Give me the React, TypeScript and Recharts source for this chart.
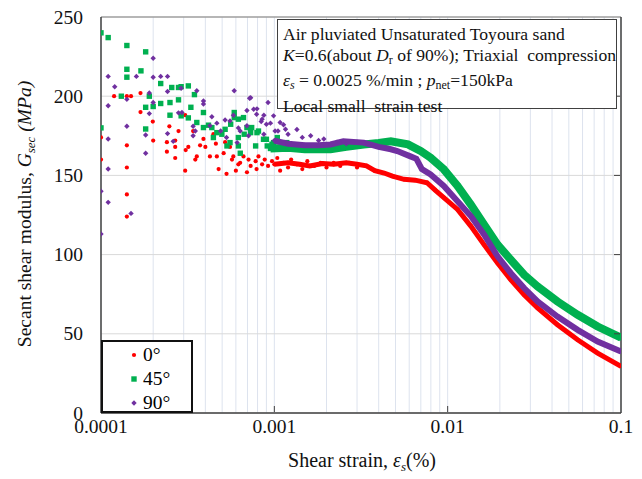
import React from "react";
import { ScatterChart, Scatter, XAxis, YAxis, CartesianGrid, ReferenceLine } from "recharts";

type Pt = [number, number];

const X_LABELS = [0.0001, 0.001, 0.01, 0.1];
const X_MINOR = [
  0.0001, 0.0002, 0.0003, 0.0004, 0.0005, 0.0006, 0.0007, 0.0008, 0.0009,
  0.001, 0.002, 0.003, 0.004, 0.005, 0.006, 0.007, 0.008, 0.009,
  0.01, 0.02, 0.03, 0.04, 0.05, 0.06, 0.07, 0.08, 0.09, 0.1,
];
const Y_TICKS = [0, 50, 100, 150, 200, 250];

// 0 deg — scattered small-strain readings
const red0Scatter: Pt[] = [
  [1e-4, 174], [1e-4, 160], [1.19e-4, 200], [1.41e-4, 200], [1.49e-4, 200], [1.69e-4, 202],
  [1.69e-4, 190], [1.99e-4, 184], [1.41e-4, 169], [1.41e-4, 155], [1.41e-4, 138], [1.41e-4, 124],
  [2e-4, 172], [2.48e-4, 181], [2.4e-4, 171], [2.68e-4, 172], [2.68e-4, 168], [2.4e-4, 165],
  [2.68e-4, 161], [2.8e-4, 178], [3.06e-4, 188], [3.06e-4, 153], [3.08e-4, 166], [3.19e-4, 168],
  [3.5e-4, 160], [3.4e-4, 178], [3.57e-4, 162], [3.73e-4, 169], [3.9e-4, 173], [4.0e-4, 168],
  [4.25e-4, 162], [4.45e-4, 176], [4.6e-4, 170], [4.66e-4, 162], [4.77e-4, 154], [5.1e-4, 164],
  [5.2e-4, 171], [5.3e-4, 151], [5.55e-4, 168], [5.7e-4, 160], [5.8e-4, 162], [6.0e-4, 153],
  [6.2e-4, 157], [6.35e-4, 158], [6.64e-4, 162], [6.95e-4, 152], [7.1e-4, 160], [7.3e-4, 156],
  [7.8e-4, 159], [7.9e-4, 154], [8.1e-4, 162], [8.5e-4, 157], [8.8e-4, 160], [9.2e-4, 156],
  [9.7e-4, 159], [1.04e-3, 161], [1.08e-3, 153], [1.13e-3, 158], [1.2e-3, 155], [1.25e-3, 160],
  [1.35e-3, 157], [1.45e-3, 154], [1.55e-3, 159], [1.7e-3, 156], [1.85e-3, 158], [2.0e-3, 155],
  [2.2e-3, 158], [2.4e-3, 156], [2.7e-3, 158], [3.0e-3, 155],
];
const red0Curve: Pt[] = [
  [1.0e-3, 157], [1.2e-3, 158], [1.4e-3, 157], [1.6e-3, 156], [1.9e-3, 157.5], [2.2e-3, 157],
  [2.6e-3, 158], [3.0e-3, 157], [3.4e-3, 156], [3.8e-3, 153], [4.3e-3, 151.5], [4.8e-3, 149.5],
  [5.6e-3, 147.5], [6.5e-3, 147], [7.6e-3, 145.4], [8.5e-3, 140.5], [9.5e-3, 136],
  [1.14e-2, 128.5], [1.36e-2, 118], [1.62e-2, 106.3], [1.94e-2, 94.7], [2.31e-2, 84.2],
  [2.76e-2, 74.7], [3.3e-2, 66.3], [4.3e-2, 55.7], [5.62e-2, 46.2], [7.33e-2, 37.8], [0.1, 29.5],
];

// 45 deg
const green45Scatter: Pt[] = [
  [1e-4, 240], [1.1e-4, 237], [1.41e-4, 232], [1.81e-4, 228], [1.41e-4, 217], [1.7e-4, 216],
  [1.41e-4, 212], [2.21e-4, 208], [2.56e-4, 205.5], [2.8e-4, 205.5], [2.9e-4, 206], [3.19e-4, 206.5],
  [1.31e-4, 200], [1.9e-4, 200], [1.81e-4, 193], [2e-4, 193.5], [2.21e-4, 195.4], [2.5e-4, 196],
  [2.8e-4, 197.7], [3.3e-4, 193], [2.5e-4, 188], [2.9e-4, 187.6], [3.19e-4, 186.3], [1e-4, 180],
  [1.81e-4, 179.3], [3.46e-4, 201], [3.57e-4, 183.4], [3.9e-4, 180.2], [3.9e-4, 189.7],
  [4.17e-4, 181.7], [4.36e-4, 180.2], [4.45e-4, 173.9], [4.66e-4, 177], [4.98e-4, 176],
  [5.2e-4, 179.1], [5.33e-4, 168.6], [5.55e-4, 170.7], [5.6e-4, 182.3], [5.87e-4, 189.7],
  [5.87e-4, 186.5], [6.2e-4, 185.5], [6.2e-4, 168.6], [6.2e-4, 173.9], [6.36e-4, 164],
  [6.64e-4, 186.5], [6.7e-4, 176], [6.95e-4, 180.2], [7.3e-4, 177], [7.4e-4, 180.2],
  [7.8e-4, 168.6], [7.94e-4, 177], [8.1e-4, 178], [8.66e-4, 172.8], [9.0e-4, 172.8],
  [9.1e-4, 168.6], [9.7e-4, 169.7], [9.9e-4, 170.7], [1.04e-3, 173.9], [1.08e-3, 167.6],
  [1.13e-3, 168.6], [1.18e-3, 170.7], [1.23e-3, 168.6], [1.47e-3, 167.6], [1.76e-3, 166.5],
  [2.1e-3, 167.6], [2.5e-3, 168.6],
];
const green45Curve: Pt[] = [
  [9.5e-4, 167], [1.2e-3, 167.5], [1.5e-3, 166.5], [1.8e-3, 166.5], [2.11e-3, 166.5],
  [2.6e-3, 168], [3.28e-3, 169.5], [4.0e-3, 170.5], [4.7e-3, 171.5], [5.9e-3, 169.6],
  [6.98e-3, 165.4], [7.97e-3, 161.2], [9.5e-3, 153.8], [1.14e-2, 143.3], [1.36e-2, 131.6],
  [1.62e-2, 119], [1.94e-2, 106.3], [2.31e-2, 96.8], [2.76e-2, 87.3], [3.3e-2, 79.9],
  [4.3e-2, 70.4], [5.62e-2, 62], [7.33e-2, 54.6], [0.1, 47.5],
];

// 90 deg
const purple90Scatter: Pt[] = [
  [2e-4, 224], [1.1e-4, 212.5], [1.6e-4, 212.5], [2e-4, 212], [2.21e-4, 212.5], [2.42e-4, 212.5],
  [1.2e-4, 206], [2.42e-4, 203], [2.9e-4, 205], [1.41e-4, 198], [1.9e-4, 202], [2e-4, 196],
  [1.1e-4, 194], [1.9e-4, 189], [2.8e-4, 189.5], [2.93e-4, 189.7], [1.41e-4, 181], [1.1e-4, 173],
  [1.81e-4, 175.5], [2.42e-4, 176.4], [2.61e-4, 171.5], [3.4e-4, 181], [3.5e-4, 178], [3.4e-4, 175],
  [1.81e-4, 164], [1.1e-4, 154], [1e-4, 140], [1.1e-4, 133], [1.49e-4, 126], [1e-4, 113],
  [3.57e-4, 203.4], [3.9e-4, 197], [3.9e-4, 195], [4.25e-4, 181.3], [4.36e-4, 187], [4.66e-4, 183],
  [4.9e-4, 178], [5.2e-4, 185], [5.3e-4, 173.9], [5.55e-4, 184.4], [5.81e-4, 188], [5.87e-4, 203.4],
  [6.1e-4, 170.7], [6.2e-4, 180], [6.35e-4, 178], [6.95e-4, 181.3], [6.95e-4, 191], [7.1e-4, 175],
  [7.2e-4, 198.7], [7.3e-4, 199], [7.6e-4, 191.8], [7.9e-4, 188.6], [7.94e-4, 192], [8.4e-4, 184],
  [8.5e-4, 185.5], [8.7e-4, 176], [8.7e-4, 188], [9.0e-4, 182.3], [9.2e-4, 196], [9.5e-4, 183],
  [9.9e-4, 187.6], [1.01e-3, 178], [1.05e-3, 178], [1.08e-3, 183.4], [1.13e-3, 182], [1.16e-3, 179.1],
  [1.2e-3, 176], [1.35e-3, 179], [1.45e-3, 174], [1.62e-3, 175], [1.8e-3, 172], [1.93e-3, 173],
  [2.3e-3, 171], [2.6e-3, 170], [3.0e-3, 171],
];
const purple90Curve: Pt[] = [
  [1.0e-3, 172], [1.2e-3, 170], [1.5e-3, 169], [1.8e-3, 169], [2.11e-3, 169.5], [2.5e-3, 171.5],
  [3.28e-3, 170.7], [4.0e-3, 168], [4.7e-3, 166.5], [5.12e-3, 165.4], [6.1e-3, 162], [6.6e-3, 160.5],
  [7.1e-3, 154], [7.97e-3, 150.6], [9.5e-3, 143.3], [1.14e-2, 133.7], [1.36e-2, 124.3],
  [1.62e-2, 112.7], [1.94e-2, 98.9], [2.31e-2, 88.4], [2.76e-2, 78.9], [3.3e-2, 70.4],
  [4.3e-2, 60.9], [5.62e-2, 52.5], [7.33e-2, 45.1], [0.1, 38.8],
];

const RED = "#ff0000";
const GREEN = "#00b050";
const PURPLE = "#7030a0";
const FONT = "'Liberation Serif', 'Times New Roman', serif";
const AXIS = "#404040";

const rows = (pts: Pt[]) => pts.map(([x, y]) => ({ x, y }));

const redDot = (p: any) => <circle cx={p.cx} cy={p.cy} r={2.1} fill={RED} />;
const greenSq = (p: any) => <rect x={p.cx - 2.7} y={p.cy - 2.7} width={5.4} height={5.4} fill={GREEN} />;
const purpleDia = (p: any) => (
  <polygon
    points={`${p.cx},${p.cy - 2.7} ${p.cx + 2.7},${p.cy} ${p.cx},${p.cy + 2.7} ${p.cx - 2.7},${p.cy}`}
    fill={PURPLE}
  />
);

const XTick = (props: any) => {
  const { x, y, payload } = props;
  const v = payload.value;
  if (!X_LABELS.includes(v)) return <g />;
  const inner = v !== 0.0001 && v !== 0.1;
  return (
    <g>
      {inner && <line x1={x} x2={x} y1={y - 1} y2={y - 7} stroke={AXIS} strokeWidth={1} />}
      <text x={x} y={y + 20} textAnchor="middle" fontSize={19.5} fontFamily={FONT} fill="#111">
        {String(v)}
      </text>
    </g>
  );
};

const YTick = (props: any) => {
  const { x, y, payload } = props;
  return (
    <text x={x - 18} y={y + 6.5} textAnchor="end" fontSize={19.5} fontFamily={FONT} fill="#111">
      {payload.value}
    </text>
  );
};

const RightTick = (props: any) => {
  const { x, y, payload } = props;
  if (payload.value === 0 || payload.value === 250) return <g />;
  return <line x1={x - 1} x2={x - 7} y1={y} y2={y} stroke={AXIS} strokeWidth={1} />;
};

function Legend() {
  const items = [
    { label: "0°", mark: <circle cx={6} cy={6} r={2.1} fill={RED} /> },
    { label: "45°", mark: <rect x={3.3} y={3.3} width={5.4} height={5.4} fill={GREEN} /> },
    { label: "90°", mark: <polygon points="6,3.3 8.7,6 6,8.7 3.3,6" fill={PURPLE} /> },
  ];
  return (
    <div
      style={{
        position: "absolute", left: 101, top: 340, width: 88, height: 69,
        border: "2px solid #111", background: "#fff", fontFamily: FONT, fontSize: 19.5,
      }}
    >
      {items.map((it, i) => (
        <div key={i} style={{ position: "absolute", left: 25, top: 2 + i * 23.8, height: 22, display: "flex", alignItems: "center" }}>
          <svg width={12} height={12} style={{ marginRight: 3 }}>{it.mark}</svg>
          <span>{it.label}</span>
        </div>
      ))}
    </div>
  );
}

function Note() {
  const sub = { fontSize: 12, verticalAlign: "-3px" } as const;
  return (
    <div
      style={{
        position: "absolute", left: 277, top: 19, width: 333, height: 84,
        border: "1.5px solid #404040", background: "#fff", fontFamily: FONT, fontSize: 17.6,
        lineHeight: "20.5px", padding: "4px 0 0 5px", whiteSpace: "pre", color: "#111",
      }}
    >
      <div>Air pluviated Unsaturated Toyoura sand</div>
      <div>
        <i>K</i>=0.6(about <i>D</i><span style={sub}>r</span> of 90%); Triaxial  compression
      </div>
      <div>
        <i>ε</i><i style={sub}>s</i> = 0.0025 %/min ; <i>p</i><span style={sub}>net</span>=150kPa
      </div>
      <div>Local small  strain test</div>
    </div>
  );
}

export default function App() {
  return (
    <div style={{ position: "absolute", left: 0, top: 0, width: 642, height: 479, background: "#fff" }}>
      <ScatterChart width={642} height={479} margin={{ top: 17, right: 20, bottom: 65, left: 0 }}>
        <CartesianGrid stroke="#dde3ee" strokeWidth={1} horizontal={false} />
        <CartesianGrid stroke="#d9d9d9" strokeWidth={1} vertical={false} />
        <XAxis
          dataKey="x" type="number" scale="log" domain={[0.0001, 0.1]} allowDataOverflow
          ticks={X_MINOR} height={1} tickSize={0} tickMargin={0} tickLine={false}
          tick={<XTick />} axisLine={{ stroke: AXIS, strokeWidth: 1.5 }} interval={0}
        />
        <YAxis
          dataKey="y" type="number" domain={[0, 250]} ticks={Y_TICKS} width={101}
          tickSize={0} tickMargin={0} tickLine={false} tick={<YTick />} interval={0}
          axisLine={{ stroke: AXIS, strokeWidth: 1.5 }} allowDataOverflow
        />
        <YAxis
          yAxisId="r" orientation="right" dataKey="y" type="number" domain={[0, 250]} ticks={Y_TICKS}
          width={1} tickSize={0} tickMargin={0} tickLine={false} tick={<RightTick />} interval={0}
          axisLine={{ stroke: AXIS, strokeWidth: 1.5 }} allowDataOverflow
        />
        <ReferenceLine y={250} stroke="#808080" strokeWidth={1} />
        <Scatter data={rows(red0Scatter)} shape={redDot} isAnimationActive={false} />
        <Scatter
          data={rows(red0Curve)} shape={redDot} line={{ stroke: RED, strokeWidth: 5 }}
          lineType="joint" isAnimationActive={false}
        />
        <Scatter data={rows(green45Scatter)} shape={greenSq} isAnimationActive={false} />
        <Scatter
          data={rows(green45Curve)} shape={greenSq} line={{ stroke: GREEN, strokeWidth: 8 }}
          lineType="joint" isAnimationActive={false}
        />
        <Scatter data={rows(purple90Scatter)} shape={purpleDia} isAnimationActive={false} />
        <Scatter
          yAxisId="r" data={rows(purple90Curve)} shape={purpleDia} line={{ stroke: PURPLE, strokeWidth: 6 }}
          lineType="joint" isAnimationActive={false}
        />
      </ScatterChart>
      <Note />
      <Legend />
      <div
        style={{
          position: "absolute", left: 26, top: 214, transform: "translate(-50%, -50%) rotate(-90deg)",
          whiteSpace: "nowrap", fontFamily: FONT, fontSize: 19.5, color: "#111",
        }}
      >
        Secant shear modulus, <i>G</i><i style={{ fontSize: 13, verticalAlign: "-4px" }}>sec</i> <i>(MPa)</i>
      </div>
      <div
        style={{
          position: "absolute", left: 362, top: 449, transform: "translateX(-50%)",
          whiteSpace: "nowrap", fontFamily: FONT, fontSize: 20, color: "#111",
        }}
      >
        Shear strain, <i>ε</i><i style={{ fontSize: 13, verticalAlign: "-4px" }}>s</i>(%)
      </div>
    </div>
  );
}
